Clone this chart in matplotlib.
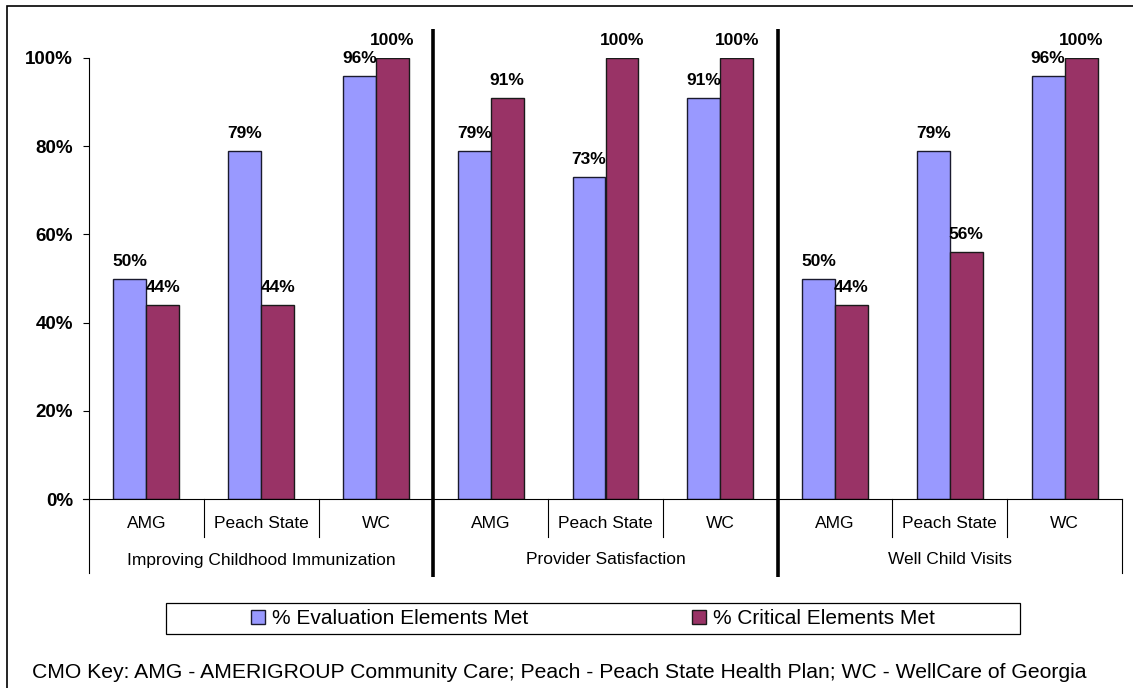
import matplotlib
matplotlib.use('Agg')
import matplotlib.pyplot as plt
import matplotlib.transforms as mtransforms
from matplotlib.patches import Patch, Rectangle

plt.rcParams['font.family'] = ['Liberation Sans', 'DejaVu Sans']

# chart data
groups = ['Improving Childhood Immunization', 'Provider Satisfaction', 'Well Child Visits']
cmos = ['AMG', 'Peach State', 'WC']
evaluation_met = [50, 79, 96, 79, 73, 91, 50, 79, 96]
critical_met = [44, 44, 100, 91, 100, 100, 44, 56, 100]
series_names = ['% Evaluation Elements Met', '% Critical Elements Met']
y_ticks = [0, 20, 40, 60, 80, 100]
footnote = ('CMO Key: AMG - AMERIGROUP Community Care; Peach - Peach State Health Plan; '
            'WC - WellCare of Georgia')

BLUE = '#9999FF'
MAROON = '#993366'

W, H = 1133, 688


def fx(x):
    return x / W


def fy(y):
    return 1 - y / H


fig = plt.figure(figsize=(W / 100, H / 100), dpi=100)
ax = fig.add_axes([fx(89), fy(499), (1122 - 89) / W, (499 - 58) / H])

n = len(evaluation_met)
bar_w = 0.287
centers = [i + 0.5 for i in range(n)]
b1 = ax.bar([c - bar_w / 2 for c in centers], evaluation_met, width=bar_w,
            color=BLUE, edgecolor='#1a1a2e', linewidth=1.0)
b2 = ax.bar([c + bar_w / 2 for c in centers], critical_met, width=bar_w,
            color=MAROON, edgecolor='#1a1a1a', linewidth=1.0)

# value labels above bars
for bars, vals in [(b1, evaluation_met), (b2, critical_met)]:
    for rect, v in zip(bars, vals):
        ax.annotate('%d%%' % v, (rect.get_x() + rect.get_width() / 2, v),
                    xytext=(0, 7), textcoords='offset points',
                    ha='center', va='bottom', fontsize=12.5, fontweight='bold',
                    annotation_clip=False)

ax.set_xlim(0, n)
ax.set_ylim(0, 100)
ax.set_yticks(y_ticks)
ax.set_yticklabels(['%d%%' % t for t in y_ticks], fontsize=13.5, fontweight='bold')
ax.tick_params(axis='y', direction='out', length=4.5, width=0.8, pad=7)
ax.set_xticks([])
for s in ['top', 'right']:
    ax.spines[s].set_visible(False)
ax.spines['left'].set_linewidth(0.8)
ax.spines['bottom'].set_linewidth(0.8)
ax.spines['bottom'].set_bounds(-0.055, n)

# two level category axis
trans = mtransforms.blended_transform_factory(ax.transData, fig.transFigure)
for i in range(n + 1):
    bottom = 573 if i % 3 == 0 else 537
    ax.plot([i, i], [fy(499), fy(bottom)], transform=trans, color='black',
            linewidth=0.8, clip_on=False)
for i, c in enumerate(centers):
    ax.text(c, fy(523), cmos[i % 3], transform=trans, ha='center', va='center',
            fontsize=12.5)
for g, name in enumerate(groups):
    ax.text(g * 3 + 1.5, fy(560), name, transform=trans, ha='center', va='center',
            fontsize=12.5)

# thick separators between groups
for g in range(1, len(groups)):
    ax.plot([g * 3, g * 3], [fy(29), fy(577)], transform=trans, color='black',
            linewidth=2.6, clip_on=False, solid_capstyle='butt')

# legend
handles = [Patch(facecolor=BLUE, edgecolor='#1a1a2e', linewidth=1.0),
           Patch(facecolor=MAROON, edgecolor='#1a1a1a', linewidth=1.0)]
fig.legend(handles, series_names, loc='center', bbox_to_anchor=(fx(593), fy(618.5)),
           ncol=2, frameon=False, fontsize=15, handlelength=0.67, handleheight=0.67,
           handletextpad=0.3, columnspacing=7.9, borderpad=0)
fig.patches.append(Rectangle((fx(166), fy(634)), (1020 - 166) / W, (634 - 603) / H,
                             transform=fig.transFigure, fill=False,
                             edgecolor='black', linewidth=0.9))

fig.text(fx(32), fy(673), footnote, ha='left', va='center', fontsize=15.2)

# outer chart border (right and bottom edges fall outside the picture)
fig.patches.append(Rectangle((fx(7), fy(700)), (1150 - 7) / W, (700 - 6) / H,
                             transform=fig.transFigure, fill=False,
                             edgecolor='black', linewidth=1.2))

fig.savefig('out.png', dpi=100)
